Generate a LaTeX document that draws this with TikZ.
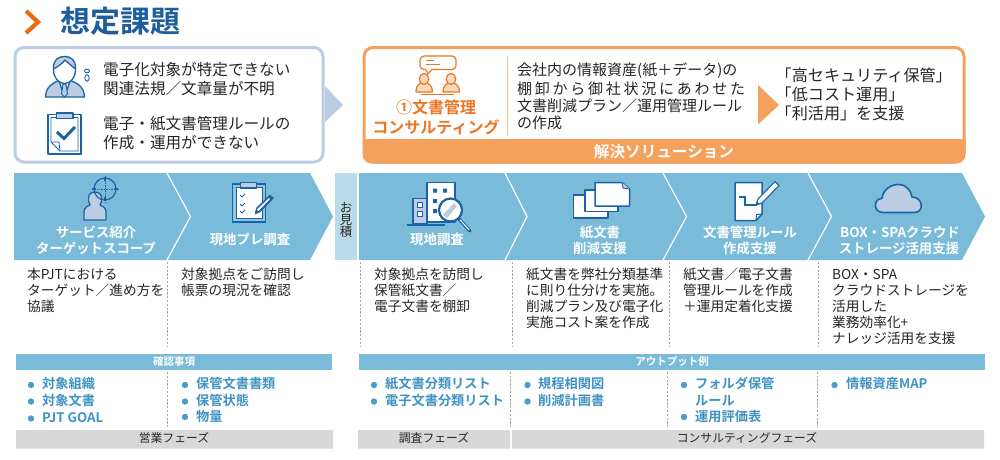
\documentclass[tikz,border=0pt]{standalone}
\usepackage{fontspec}
\setmainfont{Noto Sans CJK JP}[BoldFont={* Bold}]
\definecolor{band}{HTML}{7ABBD9}
\definecolor{bandlight}{HTML}{BADBE9}
\definecolor{icon}{HTML}{1C63A5}
\definecolor{iconfill}{HTML}{BCCDE3}
\definecolor{titleblue}{HTML}{1F5E9C}
\definecolor{orangeline}{HTML}{F4A15D}
\definecolor{orangetext}{HTML}{EE7426}
\definecolor{orangefill}{HTML}{FAD9BC}
\definecolor{chev}{HTML}{EA6A10}
\definecolor{dot}{HTML}{4A9CC9}
\definecolor{listblue}{HTML}{3F93C3}
\definecolor{greybar}{HTML}{D8D8D8}
\definecolor{ink}{HTML}{262626}
\newcommand{\fz}[1]{\fontsize{#1}{#1}\selectfont}
\tikzset{
 txt/.style={inner sep=0pt,text=ink},
 sz/.style={font=\fz{#1},text height=.86*#1 pt,text depth=.14*#1 pt},
 szb/.style={font=\fz{#1}\bfseries,text height=.86*#1 pt,text depth=.14*#1 pt},
 body/.style={txt,anchor=west,sz=15.6},
 plan/.style={txt,anchor=west,sz=15},
 rlabel/.style={txt,anchor=west,sz=16.1},
 desc/.style={txt,anchor=west,sz=13.7},
 head/.style={txt,text=white,szb=13.4},
 barlabel/.style={txt,text=white,szb=10.5},
 phase/.style={txt,sz=11.8},
 item/.style={txt,anchor=west,text=listblue,szb=13.2},
 est/.style={txt,sz=12.5},
 ico/.style={draw=icon,line width=1.3pt,line join=round},
 icow/.style={ico,fill=white},
 icof/.style={ico,fill=iconfill},
 oico/.style={draw=orangetext,line width=1.2pt,line join=round},
 divider/.style={draw=gray!70,line width=.9pt,dash pattern=on 2.2pt off 1.6pt},
 sep/.style={draw=white,line width=1.2pt},
}
\begin{document}
\begin{tikzpicture}[x=1pt,y=-1pt]
\useasboundingbox[fill=white] (0,0) rectangle (1000,459);
% title
\draw[chev,line width=4.2pt] (26,11) -- (38,22) -- (26,33);
\node[txt,text=titleblue,anchor=west,szb=30] (title) at (60,21.5) {想定課題};
% problem box
\fill[iconfill] (325,86) -- (343,105) -- (325,122) -- cycle;
\draw[iconfill,line width=3pt,rounded corners=9pt,fill=white] (15,47.5) rectangle (323,162);
\node[body] (p1) at (103,70) {電子化対象が特定できない};
\node[body] (p2) at (103,89) {関連法規／文章量が不明};
\node[body] (p3) at (103,124) {電子・紙文書管理ルールの};
\node[body] (p4) at (103,143) {作成・運用ができない};
% person icon
\draw[icof] (45.5,97) .. controls (46,86) and (53,83) .. (60,80) -- (69,80) .. controls (77,83) and (84,86) .. (84.5,97) -- cycle;
\draw[icow] (59,81) -- (64.5,97) -- (70,81) -- cycle;
\draw[icof,line width=1pt] (63,84) -- (66,84) -- (67.5,94) -- (64.5,97) -- (61.5,94) -- cycle;
\draw[icow] (64.5,70) ellipse [x radius=11,y radius=13.5];
\draw[icof] (53.5,69) .. controls (53,60) and (58,56.5) .. (64.5,56.5) .. controls (71,56.5) and (76,60) .. (75.5,69) .. controls (72,66) and (68,63) .. (65,60) .. controls (62,64) and (57,67) .. (53.5,69) -- cycle;
\draw[icon,line width=.9pt] (87,71) ellipse [x radius=2.5,y radius=1.8];
\draw[icon,line width=.9pt] (87,78) ellipse [x radius=2.2,y radius=3.2];
% clipboard icon
\draw[ico,line width=1.5pt,fill=white] (48,114.5) rectangle (81,154);
\draw[draw=icon,line width=.8pt] (51,117.5) -- (78,117.5) -- (78,151) -- (60,151) -- (51,142) -- cycle;
\draw[icon,line width=.8pt] (51,142) -- (59,142) -- (60,151);
\draw[icof] (56.5,113) rectangle (73,118.5);
\draw[icon,line width=3pt] (57,132) -- (64,138.5) -- (75,127);
% solution box
\fill[white] (364,47.5) [rounded corners=9pt] rectangle (964,162);
\begin{scope}
\clip[rounded corners=9pt] (362.5,46) rectangle (965.5,163.5);
\fill[orangeline] (362.5,139) rectangle (965.5,163.5);
\end{scope}
\draw[orangeline,line width=3pt,rounded corners=9pt] (364,47.5) rectangle (964,162);
\node[txt,text=white,szb=15.6] (sol) at (664,151.5) {解決ソリューション};
\draw[orangeline!70,line width=.9pt] (507,56) -- (507,136);
\node[txt,text=orangetext,szb=16] (c1) at (436,108) {①文書管理};
\node[txt,text=orangetext,szb=16] (c2) at (436,128) {コンサルティング};
% consulting icon
\draw[oico,rounded corners=4pt] (420,56) rectangle (456,69.5);
\fill[white] (426,68) rectangle (432,71);
\draw[oico] (426,69.5) -- (428,74) -- (432,69.5);
\draw[oico,line width=.9pt] (426,60) -- (434,60) (426,64) -- (440,64);
\draw[oico,fill=orangefill] (416,92) .. controls (416,84) and (420,83) .. (424,83) .. controls (429,83) and (432,85) .. (432.5,92) -- cycle;
\draw[oico,fill=orangefill] (424,79) ellipse [x radius=4.8,y radius=5.5];
\draw[oico,fill=orangefill] (443,92) .. controls (443,85) and (447,83) .. (451,83) .. controls (455,83) and (459,84) .. (459.5,92) -- cycle;
\draw[oico,fill=orangefill] (451,79) ellipse [x radius=4.8,y radius=5.5];
\draw[oico] (421,94.5) -- (454,94.5);
% solution texts
\node[plan] (s1) at (517,70) {会社内の情報資産(紙＋データ)の};
\node[plan] (s2) at (517,89) {\makebox[228pt][s]{棚\hfill 卸\hfill か\hfill ら\hfill 御\hfill 社\hfill 状\hfill 況\hfill に\hfill あ\hfill わ\hfill せ\hfill た}};
\node[plan] (s3) at (517,106.5) {文書削減プラン／運用管理ルール};
\node[plan] (s4) at (517,123) {の作成};
\fill[orangeline] (758,85) -- (779,105) -- (758,124.5) -- cycle;
\node[rlabel] (r1) at (775.5,76) {「高セキュリティ保管」};
\node[rlabel] (r2) at (775.5,95) {「低コスト運用」};
\node[rlabel] (r3) at (775.5,114) {「利活用」を支援};
% chevron bands
\fill[band] (14,173) -- (310,173) -- (333,216.5) -- (310,260) -- (14,260) -- cycle;
\fill[bandlight] (335,173) rectangle (357,260);
\fill[band] (359,173) -- (962,173) -- (985,216.5) -- (962,260) -- (359,260) -- cycle;
\draw[sep] (167,173) -- (190.5,216.5) -- (167,260);
\draw[sep] (505,173) -- (527,216.5) -- (505,260);
\draw[sep] (663,173) -- (686.5,216.5) -- (663,260);
\draw[sep] (808,173) -- (831.5,216.5) -- (808,260);
% chevron labels
\node[head] (h1a) at (96,233) {サービス紹介};
\node[head] (h1b) at (96,249) {ターゲットスコープ};
\node[head] (h2) at (250,240) {現地プレ調査};
\node[est] (est1) at (346,208) {お};
\node[est] (est2) at (346,220) {見};
\node[est] (est3) at (346,232) {積};
\node[head] (h3) at (437,240) {現地調査};
\node[head] (h4a) at (600,233) {紙文書};
\node[head] (h4b) at (600,249) {削減支援};
\node[head] (h5a) at (750,233) {文書管理ルール};
\node[head] (h5b) at (750,249) {作成支援};
\node[head] (h6a) at (900,233) {BOX・SPAクラウド};
\node[head] (h6b) at (899,249) {ストレージ活用支援};
% icon: target person
\draw[icof] (84,220) -- (84,212) .. controls (84,207) and (88,206) .. (90,205) .. controls (86,196) and (90,192) .. (95,192) .. controls (101,192) and (104,197) .. (100,205) .. controls (103,206) and (106,208) .. (106,212) -- (106,220) -- cycle;
\draw[icon,line width=1.2pt] (105,189) circle (11);
\draw[icon,line width=.7pt,densely dotted] (92,189) -- (118,189) (105,176) -- (105,202);
\draw[icon,line width=1.1pt] (92,189) -- (96,189) (114,189) -- (118,189) (105,177) -- (105,181) (105,197) -- (105,201);
% icon: clipboard pencil
\draw[ico,line width=1.6pt,fill=band!85!white] (232.5,184) rectangle (265.5,222);
\draw[draw=icon,fill=white,line width=.9pt] (236,187) rectangle (262,218.5);
\draw[icof] (240.5,182.5) rectangle (256.5,188);
\draw[icon,line width=1pt] (240,195) -- (242,197) -- (245,194) (240,204) -- (242,206) -- (245,203) (240,211) -- (242,213) -- (245,210);
\draw[icow,fill=icon,line width=.6pt] (255,214) -- (256.5,208) -- (270,195) -- (273.5,198) -- (260,212) -- cycle;
\fill[white] (257,209.5) -- (258.5,211) -- (270,199) -- (269,198) -- cycle;
% icon: building + lens
\draw[icow,line width=1.4pt] (427,182.5) rectangle (455,222);
\draw[icof] (413,198.5) rectangle (427,224);
\draw[icow,line width=.9pt] (417,202) rectangle (422,207);
\draw[icow,line width=.9pt] (417,211) rectangle (422,216);
\fill[icon] (433,188.5) rectangle (437,192.5) (443,188.5) rectangle (447,192.5) (433,199) rectangle (437,203) (433,209) rectangle (437,213);
\draw[icon,line width=2pt] (407,225) -- (445,225);
\draw[icon,line width=3.4pt,line cap=round] (459,219) -- (470,231);
\draw[white,line width=1pt] (460,219.8) -- (469.2,230);
\draw[icof,line width=2.2pt,fill=white] (450.5,210) circle (11.5);
\draw[draw=none,fill=iconfill] (443,215) -- (454,203) -- (457,206) -- (447,218) -- cycle;
% icon: papers
\draw[icow,line width=1.5pt] (573.5,195) rectangle (608,218);
\draw[icow,line width=1.5pt] (585,190) rectangle (618,211.5);
\draw[icow,line width=1.5pt] (595,182.5) -- (622,182.5) -- (629.5,189) -- (629.5,206) -- (595,206) -- cycle;
\draw[icon,fill=iconfill,line width=.9pt] (622,182.5) -- (623,188) -- (629.5,189);
% icon: document + pen
\draw[icow,line width=1.5pt] (735,182.5) -- (762,182.5) -- (762,214) -- (756,220.5) -- (735,220.5) -- cycle;
\draw[icon,line width=1pt] (756,220.5) -- (756.5,214.5) -- (762,214);
\draw[icon,line width=1.2pt] (739,197) -- (745,197) -- (745,205) -- (757,205);
\draw[icow,line width=1.1pt] (756,205) -- (758,199) -- (775,181.5) -- (779,185.5) -- (762,203) -- cycle;
\fill[icon] (756,205) -- (757,201.5) -- (759.5,204) -- cycle;
% icon: cloud
\draw[icof,line width=1.6pt] (883,212.5) .. controls (873,212.5) and (873,198.5) .. (882,198.5) .. controls (883,189) and (892,184) .. (899,184.5) .. controls (907,185) and (911,191) .. (912,197) .. controls (923,197) and (925,212.5) .. (914,212.5) -- cycle;
% description columns
\node[desc] (d1a) at (27,275) {本PJTにおける};
\node[desc] (d1b) at (27,291) {ターゲット／進め方を};
\node[desc] (d1c) at (27,307) {協議};
\node[desc] (d2a) at (181,275) {対象拠点をご訪問し};
\node[desc] (d2b) at (181,291) {帳票の現況を確認};
\node[desc] (d3a) at (374,275) {対象拠点を訪問し};
\node[desc] (d3b) at (374,291) {保管紙文書／};
\node[desc] (d3c) at (374,307) {電子文書を棚卸};
\node[desc] (d4a) at (526,275) {紙文書を弊社分類基準};
\node[desc] (d4b) at (526,291) {に則り仕分けを実施。};
\node[desc] (d4c) at (526,307) {削減プラン及び電子化};
\node[desc] (d4d) at (526,323) {実施コスト案を作成};
\node[desc] (d5a) at (683,275) {紙文書／電子文書};
\node[desc] (d5b) at (683,291) {管理ルールを作成};
\node[desc] (d5c) at (683,307) {＋運用定着化支援};
\node[desc] (d6a) at (832,275) {BOX・SPA};
\node[desc] (d6b) at (832,291) {クラウドストレージを};
\node[desc] (d6c) at (832,307) {活用した};
\node[desc] (d6d) at (832,323) {業務効率化+};
\node[desc] (d6e) at (832,339) {ナレッジ活用を支援};
% dividers
\draw[divider] (167.5,262) -- (167.5,347) (167.5,372) -- (167.5,429);
\draw[divider] (360,262) -- (360,347);
\draw[divider] (512,262) -- (512,347) (510.5,372) -- (510.5,429);
\draw[divider] (669.5,262) -- (669.5,347) (667,372) -- (667,429);
\draw[divider] (818,262) -- (818,347) (817,372) -- (817,429);
% header bars
\fill[band] (15.5,353.5) rectangle (332,370);
\fill[band] (359,353.5) rectangle (985,370);
\node[barlabel] (b1) at (174,361.5) {確認事項};
\node[barlabel] (b2) at (672,361.5) {アウトプット例};
% bullet lists
\fill[dot] (31,385) circle (3.2) (31,401.5) circle (3.2) (31,418.5) circle (3.2)
 (185,385) circle (3.2) (185,401.5) circle (3.2) (185,417) circle (3.2)
 (374,385) circle (3.2) (374,401.5) circle (3.2)
 (527.5,385) circle (3.2) (527.5,401.5) circle (3.2)
 (684,385) circle (3.2) (684,417) circle (3.2)
 (834.5,385) circle (3.2);
\node[item] (i1) at (42,384) {対象組織};
\node[item] (i2) at (42,401) {対象文書};
\node[item] (i3) at (42,418) {PJT GOAL};
\node[item] (i4) at (196,384) {保管文書書類};
\node[item] (i5) at (196,401) {保管状態};
\node[item] (i6) at (196,417) {物量};
\node[item] (i7) at (385,384) {紙文書分類リスト};
\node[item] (i8) at (385,401) {電子文書分類リスト};
\node[item] (i9) at (538,384) {規程相関図};
\node[item] (i10) at (538,401) {削減計画書};
\node[item] (i11) at (695,384) {フォルダ保管};
\node[item] (i12) at (695,401) {ルール};
\node[item] (i13) at (695,417) {運用評価表};
\node[item] (i14) at (846,384) {情報資産MAP};
% phase bars
\fill[greybar] (16,430) rectangle (333,448.5) (358,430) rectangle (510,448.5) (512,430) rectangle (984,448.5);
\node[phase] (f1) at (174,438.5) {営業フェーズ};
\node[phase] (f2) at (434,438.5) {調査フェーズ};
\node[phase] (f3) at (747,438.5) {コンサルティングフェーズ};
\end{tikzpicture}
\end{document}
